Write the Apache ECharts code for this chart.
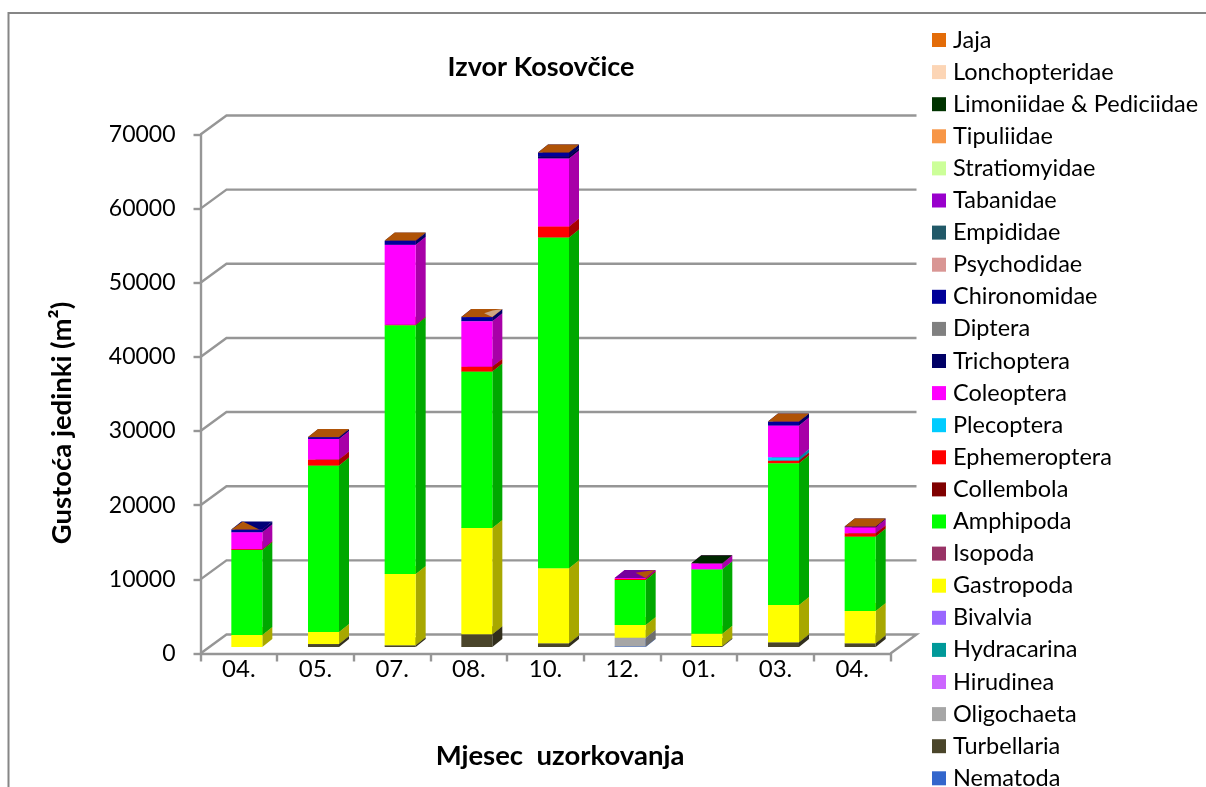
<!DOCTYPE html>
<html><head><meta charset="utf-8">
<style>html,body{margin:0;padding:0;background:#fff;overflow:hidden}#c{width:1206px;height:787px}</style>
<script src="https://cdn.jsdelivr.net/npm/echarts@6/dist/echarts.min.js"></script>
</head><body><div id="c"></div>
<script>
const months = ['04.','05.','07.','08.','10.','12.','01.','03.','04.'];
const yTicks = [0,10000,20000,30000,40000,50000,60000,70000];
// bottom-to-top stack order
const Nematoda      = [0,0,0,0,0,80,0,0,0];
const Turbellaria   = [0,400,230,1710,500,0,130,630,500];
const Oligochaeta   = [0,0,0,0,0,1170,0,0,0];
const Hirudinea     = [0,0,0,0,0,0,0,0,0];
const Hydracarina   = [0,0,0,0,0,0,0,0,0];
const Bivalvia      = [0,0,0,0,0,0,0,0,0];
const Gastropoda    = [1620,1620,9620,14350,10120,1720,1670,5040,4360];
const Isopoda       = [0,0,0,0,0,0,0,0,0];
const Amphipoda     = [11470,22450,33550,21090,44620,6070,8680,19120,10030];
const Collembola    = [0,0,0,0,0,0,0,0,0];
const Ephemeroptera = [110,810,50,640,1490,140,0,350,450];
const Plecoptera    = [0,0,0,0,0,0,0,460,0];
const Coleoptera    = [2280,2790,10800,6160,9170,120,810,4270,810];
const Trichoptera   = [0,0,0,0,300,0,0,0,100];
const Diptera       = [0,0,0,0,0,0,0,0,0];
const Chironomidae  = [370,230,550,550,500,0,0,530,0];
const Psychodidae   = [0,0,0,0,0,0,0,0,0];
const Empididae     = [0,0,0,0,0,0,0,0,0];
const Tabanidae     = [0,0,0,0,0,10,0,0,0];
const Stratiomyidae = [0,0,0,0,0,0,0,0,0];
const Tipuliidae    = [0,0,0,0,0,0,0,0,0];
const Limoniidae    = [0,0,0,0,0,0,10,0,0];
const Lonchopteridae= [0,0,0,0,0,0,0,0,0];
const Jaja          = [0,10,10,10,10,0,0,10,10];

const taxa = [
 ['Nematoda',Nematoda,'#3366CC'],['Turbellaria',Turbellaria,'#4A452A'],['Oligochaeta',Oligochaeta,'#A6A6A6'],
 ['Hirudinea',Hirudinea,'#CC66FF'],['Hydracarina',Hydracarina,'#009999'],['Bivalvia',Bivalvia,'#9966FF'],
 ['Gastropoda',Gastropoda,'#FFFF00'],['Isopoda',Isopoda,'#993366'],['Amphipoda',Amphipoda,'#00FF00'],
 ['Collembola',Collembola,'#800000'],['Ephemeroptera',Ephemeroptera,'#FF0000'],['Plecoptera',Plecoptera,'#00CCFF'],
 ['Coleoptera',Coleoptera,'#FF00FF'],['Trichoptera',Trichoptera,'#000066'],['Diptera',Diptera,'#808080'],
 ['Chironomidae',Chironomidae,'#000099'],['Psychodidae',Psychodidae,'#D99694'],['Empididae',Empididae,'#215968'],
 ['Tabanidae',Tabanidae,'#9900CC'],['Stratiomyidae',Stratiomyidae,'#CCFF99'],['Tipuliidae',Tipuliidae,'#F79646'],
 ['Limoniidae & Pediciidae',Limoniidae,'#003300'],['Lonchopteridae',Lonchopteridae,'#FCD5B5'],['Jaja',Jaja,'#E36C09']
];

const FONT='Lato';
const GRID='#969696';
const BAR_W=31, SHIFT_X=8, SHIFT_Y=-6.5, DX=10, DY=-8;   // oblique bar projection
const WALL_X=26, WALL_Y=-19;                              // oblique wall projection

function shade(hex,k){
  const n=parseInt(hex.slice(1),16);
  return 'rgb('+[(n>>16)&255,(n>>8)&255,n&255].map(v=>Math.round(v*k)).join(',')+')';
}
const running = months.map(()=>0);
const series = [];

// back wall and floor
series.push({
  type:'custom', silent:true, coordinateSystem:'cartesian2d',
  data:yTicks.map(v=>[0,v]), encode:{x:0,y:1},
  renderItem(params,api){
    const cs=params.coordSys, p=api.coord([0,api.value(1)]);
    const y=p[1], x0=cs.x, x1=cs.x+cs.width;
    const points=[[x0,y],[x0+WALL_X,y+WALL_Y],[x1+WALL_X,y+WALL_Y]];
    if(api.value(1)===0) points.push([x1,y]);
    return {type:'polyline',shape:{points},style:{stroke:GRID,lineWidth:2.4,fill:null}};
  }
});

taxa.forEach(([name,vals,color])=>{
  const base=running.slice();
  vals.forEach((v,i)=>running[i]+=v);
  series.push({
    type:'custom', name, coordinateSystem:'cartesian2d', itemStyle:{color},
    encode:{x:0,y:1},
    data:vals.map((v,i)=>[i,v]).filter(d=>d[1]>0),
    renderItem(params,api){
      const i=api.value(0), v=api.value(1);
      const lo=api.coord([i,base[i]]), hi=api.coord([i,base[i]+v]);
      const l=lo[0]+SHIFT_X-BAR_W/2, r=l+BAR_W, b=lo[1]+SHIFT_Y, t=hi[1]+SHIFT_Y;
      return {type:'group',children:[
        {type:'polygon',shape:{points:[[r,b],[r+DX,b+DY],[r+DX,t+DY],[r,t]]},style:{fill:shade(color,.66)}},
        {type:'polygon',shape:{points:[[l,t],[r,t],[r+DX,t+DY],[l+DX,t+DY]]},style:{fill:shade(color,.77)}},
        {type:'rect',shape:{x:l,y:t,width:BAR_W,height:b-t},style:{fill:color}}
      ]};
    }
  });
});

// irregular patches on three top faces, in (across, depth) fractions of the face
const facePatches = {
  0:[[ '#B05608', [[0,0],[.05,1],[.9,0]] ]],
  3:[[ '#CDA583', [[.58,.48],[.75,.8],[1,1],[1,0]] ]],
  5:[[ '#B05608', [[.46,.65],[.97,1],[1,0]] ]]
};
series.push({
  type:'custom', silent:true, coordinateSystem:'cartesian2d', encode:{x:0,y:1},
  data:running.map((v,i)=>[i,v]).filter(d=>facePatches[d[0]]),
  renderItem(params,api){
    const i=api.value(0), p=api.coord([i,api.value(1)]);
    const l=p[0]+SHIFT_X-BAR_W/2, t=p[1]+SHIFT_Y;
    return {type:'group',children:facePatches[i].map(([fill,uv])=>({
      type:'polygon',
      shape:{points:uv.map(([u,w])=>[l+u*BAR_W+w*DX,t+w*DY])},
      style:{fill}
    }))};
  }
});

const chart=echarts.init(document.getElementById('c'),null,{renderer:'canvas'});
chart.setOption({
  animation:false, backgroundColor:'#fff',
  title:{text:'Izvor Kosovčice',left:536,top:49,textAlign:'center',
    textStyle:{fontFamily:FONT,fontWeight:'bold',fontSize:27,color:'#000'}},
  grid:{left:200.5,top:134.5,width:690,height:519},
  xAxis:{type:'category',data:months,
    axisLine:{lineStyle:{color:GRID,width:2.4}},
    axisTick:{show:true,alignWithLabel:false,length:8,lineStyle:{color:GRID,width:2.4}},
    axisLabel:{interval:0,margin:4,fontFamily:FONT,fontSize:24,color:'#000'},splitLine:{show:false}},
  yAxis:{type:'value',min:0,max:70000,interval:10000,
    axisLine:{show:true,lineStyle:{color:GRID,width:2.4}},
    axisTick:{show:true,length:7,lineStyle:{color:GRID,width:2.4}},
    axisLabel:{margin:25,fontFamily:FONT,fontSize:23,color:'#000',formatter:v=>String(v)},splitLine:{show:false}},
  legend:{orient:'vertical',left:932,top:28,height:790,itemWidth:14,itemHeight:14,itemGap:8.1,padding:0,
    icon:'rect',selectedMode:false,
    data:taxa.map(t=>t[0]).reverse(),
    textStyle:{fontFamily:FONT,fontSize:23.5,color:'#000',padding:[0,0,0,2]}},
  graphic:[
    {type:'rect',silent:true,z:-1,shape:{x:8.5,y:13,width:1300,height:900},style:{fill:null,stroke:'#868686',lineWidth:2}},
    {type:'text',silent:true,x:62,y:423,rotation:Math.PI/2,style:{text:'Gustoća jedinki (m²)',align:'center',verticalAlign:'middle',
      fontFamily:FONT,fontWeight:'bold',fontSize:27.5,fill:'#000'}},
    {type:'text',silent:true,x:560,y:756,style:{text:'Mjesec  uzorkovanja',align:'center',verticalAlign:'middle',
      fontFamily:FONT,fontWeight:'bold',fontSize:27.5,fill:'#000'}}
  ],
  series
});
</script></body></html>
